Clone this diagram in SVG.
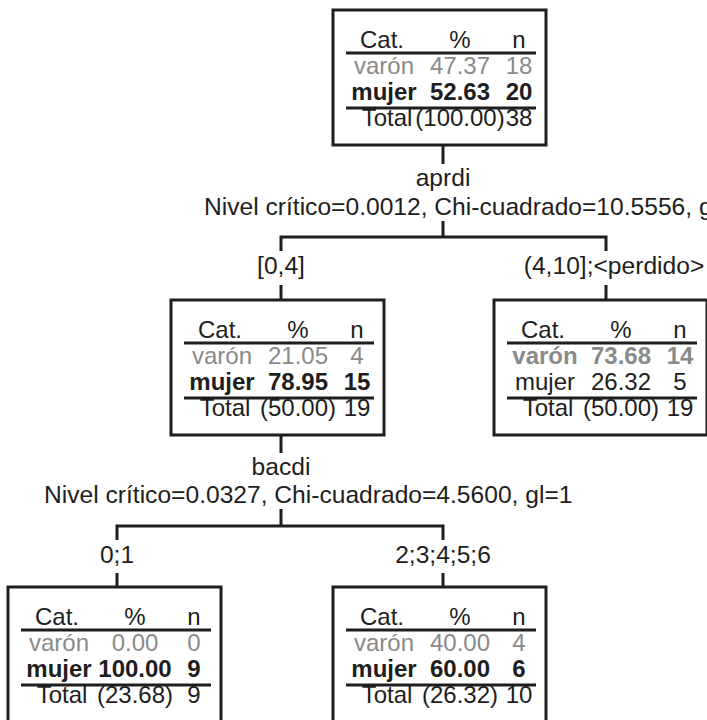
<svg xmlns="http://www.w3.org/2000/svg" width="707" height="720" viewBox="0 0 707 720">
<style>
.box{fill:#fff;stroke:#1e1e1e;stroke-width:3}
.ul{stroke:#1e1e1e;stroke-width:3}
.c{fill:none;stroke:#1e1e1e;stroke-width:3;stroke-linecap:butt;stroke-linejoin:miter}
text{font-family:"Liberation Sans",Arial,Helvetica,sans-serif;font-size:24px;fill:#1e1e1e}
.e{font-size:24.6px}
.m{text-anchor:middle}
.g{fill:#8a8a8a}
.b{font-weight:bold}
</style>
<rect width="707" height="720" fill="#fff"/>
<g id="connectors">
<path class="c" d="M443,145V164M443,221V237M281,251V237H606V251M281,285V300M606,285V300"/>
<path class="c" d="M281,435V453M281,509V526M117,540V526H443V540M117,573V587M443,573V587"/>
</g>
<g id="labels">
<text class="m e" x="443" y="186">aprdi</text>
<text class="e" x="204" y="215">Nivel crítico=0.0012, Chi-cuadrado=10.5556, gl=1</text>
<text class="m e" x="281" y="274">[0,4]</text>
<text class="m e" x="614" y="274">(4,10];&lt;perdido&gt;</text>
<text class="m e" x="281" y="475">bacdi</text>
<text class="e" x="44" y="503">Nivel crítico=0.0327, Chi-cuadrado=4.5600, gl=1</text>
<text class="m e" x="117" y="563">0;1</text>
<text class="m e" x="443" y="563">2;3;4;5;6</text>
</g>
<g id="node0">
<rect class="box" x="333" y="10" width="213" height="135"/>
<line class="ul" x1="346" y1="53" x2="536" y2="53"/>
<line class="ul" x1="346" y1="108" x2="536" y2="108"/>
<text class="m" x="382" y="48">Cat.</text><text class="m" x="460" y="48">%</text><text class="m" x="519" y="48">n</text>
<text class="m g" x="384" y="74">varón</text><text class="m g" x="460" y="74">47.37</text><text class="m g" x="519" y="74">18</text>
<text class="m b" x="384" y="100">mujer</text><text class="m b" x="460" y="100">52.63</text><text class="m b" x="519" y="100">20</text>
<text class="m" x="387" y="126">Total</text><text class="m" x="460" y="126">(100.00)</text><text class="m" x="519" y="126">38</text>
</g>
<g id="node1">
<rect class="box" x="171" y="300" width="213" height="135"/>
<line class="ul" x1="184" y1="343" x2="374" y2="343"/>
<line class="ul" x1="184" y1="398" x2="374" y2="398"/>
<text class="m" x="220" y="338">Cat.</text><text class="m" x="298" y="338">%</text><text class="m" x="357" y="338">n</text>
<text class="m g" x="222" y="364">varón</text><text class="m g" x="298" y="364">21.05</text><text class="m g" x="357" y="364">4</text>
<text class="m b" x="222" y="390">mujer</text><text class="m b" x="298" y="390">78.95</text><text class="m b" x="357" y="390">15</text>
<text class="m" x="225" y="416">Total</text><text class="m" x="298" y="416">(50.00)</text><text class="m" x="357" y="416">19</text>
</g>
<g id="node2">
<rect class="box" x="494" y="300" width="213" height="135"/>
<line class="ul" x1="507" y1="343" x2="697" y2="343"/>
<line class="ul" x1="507" y1="398" x2="697" y2="398"/>
<text class="m" x="543" y="338">Cat.</text><text class="m" x="621" y="338">%</text><text class="m" x="680" y="338">n</text>
<text class="m g b" x="545" y="364">varón</text><text class="m g b" x="621" y="364">73.68</text><text class="m g b" x="680" y="364">14</text>
<text class="m" x="545" y="390">mujer</text><text class="m" x="621" y="390">26.32</text><text class="m" x="680" y="390">5</text>
<text class="m" x="548" y="416">Total</text><text class="m" x="621" y="416">(50.00)</text><text class="m" x="680" y="416">19</text>
</g>
<g id="node3">
<rect class="box" x="8" y="587" width="213" height="135"/>
<line class="ul" x1="21" y1="630" x2="211" y2="630"/>
<line class="ul" x1="21" y1="685" x2="211" y2="685"/>
<text class="m" x="57" y="625">Cat.</text><text class="m" x="135" y="625">%</text><text class="m" x="194" y="625">n</text>
<text class="m g" x="59" y="651">varón</text><text class="m g" x="135" y="651">0.00</text><text class="m g" x="194" y="651">0</text>
<text class="m b" x="59" y="677">mujer</text><text class="m b" x="135" y="677">100.00</text><text class="m b" x="194" y="677">9</text>
<text class="m" x="62" y="703">Total</text><text class="m" x="135" y="703">(23.68)</text><text class="m" x="194" y="703">9</text>
</g>
<g id="node4">
<rect class="box" x="333" y="587" width="213" height="135"/>
<line class="ul" x1="346" y1="630" x2="536" y2="630"/>
<line class="ul" x1="346" y1="685" x2="536" y2="685"/>
<text class="m" x="382" y="625">Cat.</text><text class="m" x="460" y="625">%</text><text class="m" x="519" y="625">n</text>
<text class="m g" x="384" y="651">varón</text><text class="m g" x="460" y="651">40.00</text><text class="m g" x="519" y="651">4</text>
<text class="m b" x="384" y="677">mujer</text><text class="m b" x="460" y="677">60.00</text><text class="m b" x="519" y="677">6</text>
<text class="m" x="387" y="703">Total</text><text class="m" x="460" y="703">(26.32)</text><text class="m" x="519" y="703">10</text>
</g>
</svg>
